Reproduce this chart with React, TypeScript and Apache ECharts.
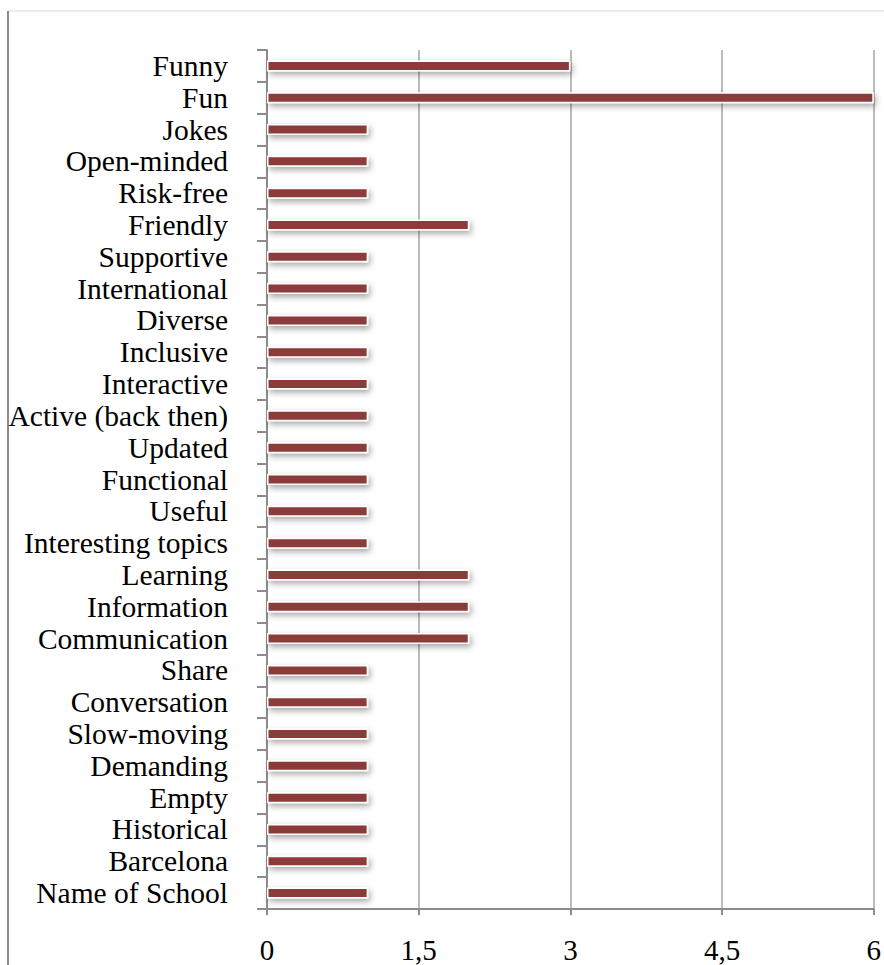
import React, { useEffect, useRef } from "react";
import * as echarts from "echarts";

const categories = [
  "Funny", "Fun", "Jokes", "Open-minded", "Risk-free", "Friendly", "Supportive",
  "International", "Diverse", "Inclusive", "Interactive", "Active (back then)",
  "Updated", "Functional", "Useful", "Interesting topics", "Learning",
  "Information", "Communication", "Share", "Conversation", "Slow-moving",
  "Demanding", "Empty", "Historical", "Barcelona", "Name of School",
];
const values = [3, 6, 1, 1, 1, 2, 1, 1, 1, 1, 1, 1, 1, 1, 1, 1, 2, 2, 2, 1, 1, 1, 1, 1, 1, 1, 1];
const xMin = 0;
const xMax = 6;
const xInterval = 1.5;

const FONT = '"Liberation Serif", "Times New Roman", serif';

export default function App() {
  const ref = useRef<HTMLDivElement>(null);
  useEffect(() => {
    if (!ref.current) return;
    const chart = echarts.init(ref.current, null, { renderer: "svg" });
    chart.setOption({
      animation: false,
      backgroundColor: "#ffffff",
      grid: { left: 267, right: 7, top: 50, bottom: 56, containLabel: false },
      graphic: [
        { type: "line", shape: { x1: 8, y1: 11, x2: 884, y2: 11 }, style: { stroke: "#d9d9d9", lineWidth: 1 } },
        { type: "line", shape: { x1: 8, y1: 11, x2: 8, y2: 965 }, style: { stroke: "#8c8c8c", lineWidth: 2 } },
      ],
      xAxis: {
        type: "value",
        min: xMin,
        max: xMax,
        interval: xInterval,
        axisLine: { show: true, lineStyle: { color: "#8c8c8c", width: 2 } },
        axisTick: { show: true, length: 6, lineStyle: { color: "#8c8c8c", width: 2 } },
        splitLine: { show: true, lineStyle: { color: "#a6a6a6", width: 1.5 } },
        axisLabel: {
          color: "#000",
          fontFamily: FONT,
          fontSize: 29,
          margin: 26,
          formatter: (v: number) => String(v).replace(".", ","),
        },
      },
      yAxis: {
        type: "category",
        data: categories,
        inverse: true,
        axisLine: { show: true, lineStyle: { color: "#8c8c8c", width: 2 } },
        axisTick: { show: true, length: 10, lineStyle: { color: "#8c8c8c", width: 2 } },
        axisLabel: { color: "#000", fontFamily: FONT, fontSize: 29.5, margin: 39, interval: 0 },
      },
      series: [
        {
          type: "bar",
          data: values,
          barWidth: 11,
          itemStyle: {
            color: "#8c3a3a",
            borderColor: "#ffffff",
            borderWidth: 1.5,
            shadowColor: "rgba(0,0,0,0.35)",
            shadowBlur: 6,
            shadowOffsetX: 2,
            shadowOffsetY: 3,
          },
        },
      ],
    });
    return () => chart.dispose();
  }, []);
  return (
    <div
      ref={ref}
      style={{ position: "absolute", left: 0, top: 0, width: 884, height: 965 }}
    />
  );
}
